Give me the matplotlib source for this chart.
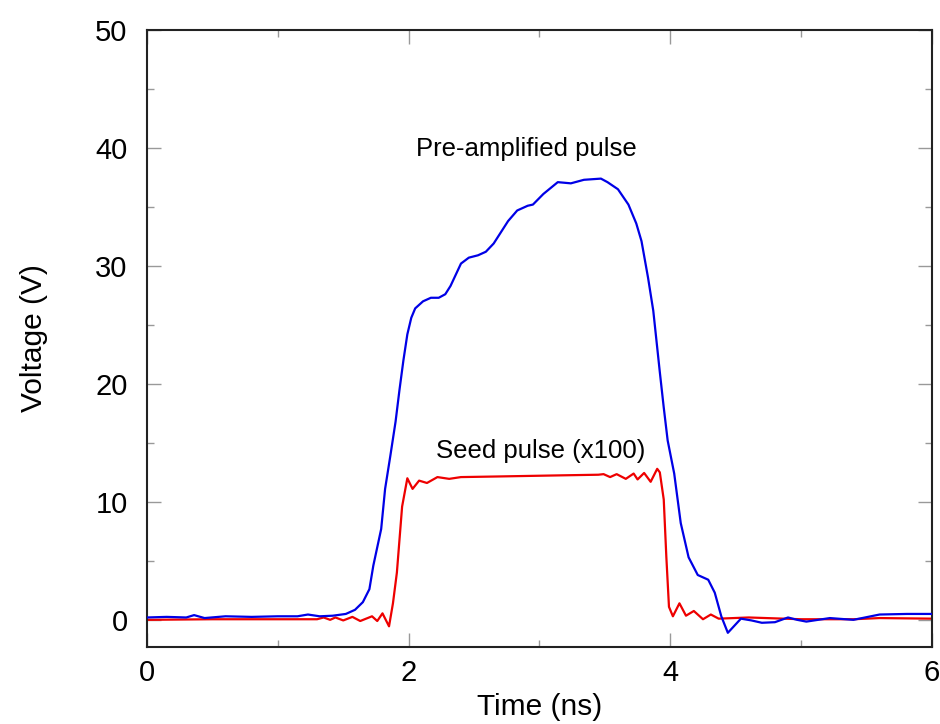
"""Pre-amplified vs seed pulse waveform."""

import matplotlib

matplotlib.use("Agg")
import matplotlib.pyplot as plt
from matplotlib.ticker import MultipleLocator

plt.rcParams["font.family"] = ["Liberation Sans", "DejaVu Sans"]

# Pre-amplified pulse (V) vs time (ns)
pre_t = [0.00, 0.15, 0.30, 0.36, 0.44, 0.60, 0.80, 1.00, 1.15, 1.23, 1.32,
         1.42, 1.52, 1.59, 1.65, 1.70, 1.73, 1.79, 1.82, 1.86, 1.90, 1.93,
         1.96, 1.99, 2.02, 2.05, 2.11, 2.17, 2.23, 2.28, 2.32, 2.40, 2.46,
         2.53, 2.59, 2.65, 2.76, 2.83, 2.91, 2.95, 3.03, 3.14, 3.24, 3.34,
         3.47, 3.52, 3.60, 3.68, 3.74, 3.78, 3.83, 3.87, 3.92, 3.95, 3.98,
         4.03, 4.08, 4.14, 4.21, 4.29, 4.34, 4.39, 4.44, 4.49, 4.54, 4.62,
         4.70, 4.80, 4.90, 4.97, 5.04, 5.22, 5.40, 5.60, 5.81, 6.00]
pre_v = [0.20, 0.25, 0.20, 0.40, 0.15, 0.30, 0.25, 0.30, 0.30, 0.45, 0.30,
         0.35, 0.50, 0.85, 1.50, 2.60, 4.60, 7.70, 11.1, 13.9, 16.8, 19.5,
         22.0, 24.2, 25.6, 26.4, 27.0, 27.3, 27.3, 27.6, 28.3, 30.2, 30.7,
         30.9, 31.2, 31.9, 33.8, 34.7, 35.1, 35.2, 36.1, 37.1, 37.0, 37.3,
         37.4, 37.1, 36.5, 35.2, 33.6, 32.1, 29.0, 26.2, 21.0, 18.0, 15.2,
         12.4, 8.2, 5.3, 3.8, 3.4, 2.3, 0.3, -1.1, -0.5, 0.1, -0.05,
         -0.25, -0.2, 0.2, 0.0, -0.15, 0.15, 0.0, 0.45, 0.50, 0.50]

# Seed pulse (x100) vs time (ns)
seed_t = [0.00, 0.50, 1.00, 1.30, 1.35, 1.40, 1.44, 1.50, 1.57, 1.63, 1.72,
          1.76, 1.80, 1.85, 1.88, 1.91, 1.95, 1.99, 2.03, 2.08, 2.14, 2.22,
          2.31, 2.40, 2.67, 3.18, 3.45, 3.49, 3.54, 3.59, 3.66, 3.72, 3.75,
          3.80, 3.85, 3.90, 3.92, 3.95, 3.97, 3.99, 4.02, 4.07, 4.12, 4.18,
          4.25, 4.31, 4.37, 4.60, 5.00, 5.40, 5.60, 6.00]
seed_v = [0.00, 0.05, 0.05, 0.05, 0.20, 0.00, 0.20, -0.05, 0.25, -0.10, 0.30,
          -0.10, 0.55, -0.55, 1.40, 4.00, 9.60, 12.0, 11.1, 11.8, 11.6, 12.1,
          11.95, 12.1, 12.15, 12.25, 12.3, 12.35, 12.1, 12.35, 11.95, 12.4, 11.9,
          12.45, 11.7, 12.8, 12.5, 10.2, 5.3, 1.1, 0.3, 1.4, 0.35, 0.75,
          0.05, 0.45, 0.10, 0.20, 0.05, 0.05, 0.15, 0.10]

x_limits = (0, 6)
y_limits = (-2.3, 50)

fig = plt.figure(figsize=(9.4, 7.24), dpi=100)
ax = fig.add_axes([0.1564, 0.1064, 0.835, 0.8522])

ax.plot(pre_t, pre_v, color="#0000e6", linewidth=1.6, zorder=3)
ax.plot(seed_t, seed_v, color="#ee0000", linewidth=1.6, zorder=2)

ax.text(2.90, 39.9, "Pre-amplified pulse", fontsize=18.5, ha="center", va="center")
ax.text(3.01, 14.3, "Seed pulse (x100)", fontsize=18.5, ha="center", va="center")

ax.set_xlim(*x_limits)
ax.set_ylim(*y_limits)
ax.xaxis.set_major_locator(MultipleLocator(2))
ax.xaxis.set_minor_locator(MultipleLocator(1))
ax.yaxis.set_major_locator(MultipleLocator(10))
ax.yaxis.set_minor_locator(MultipleLocator(5))

ax.tick_params(which="both", direction="in", top=True, right=True,
               color="#999999", width=1.0, labelsize=21)
ax.tick_params(which="major", length=10)
ax.tick_params(which="minor", length=5)
ax.tick_params(axis="y", pad=14)
ax.tick_params(axis="x", pad=9)

for spine in ax.spines.values():
    spine.set_linewidth(1.5)
    spine.set_color("#222222")

ax.set_xlabel("Time (ns)", fontsize=21.5, labelpad=4)
ax.set_ylabel("Voltage (V)", fontsize=21.5, labelpad=34)

fig.savefig("out.png", dpi=100, facecolor="white")
